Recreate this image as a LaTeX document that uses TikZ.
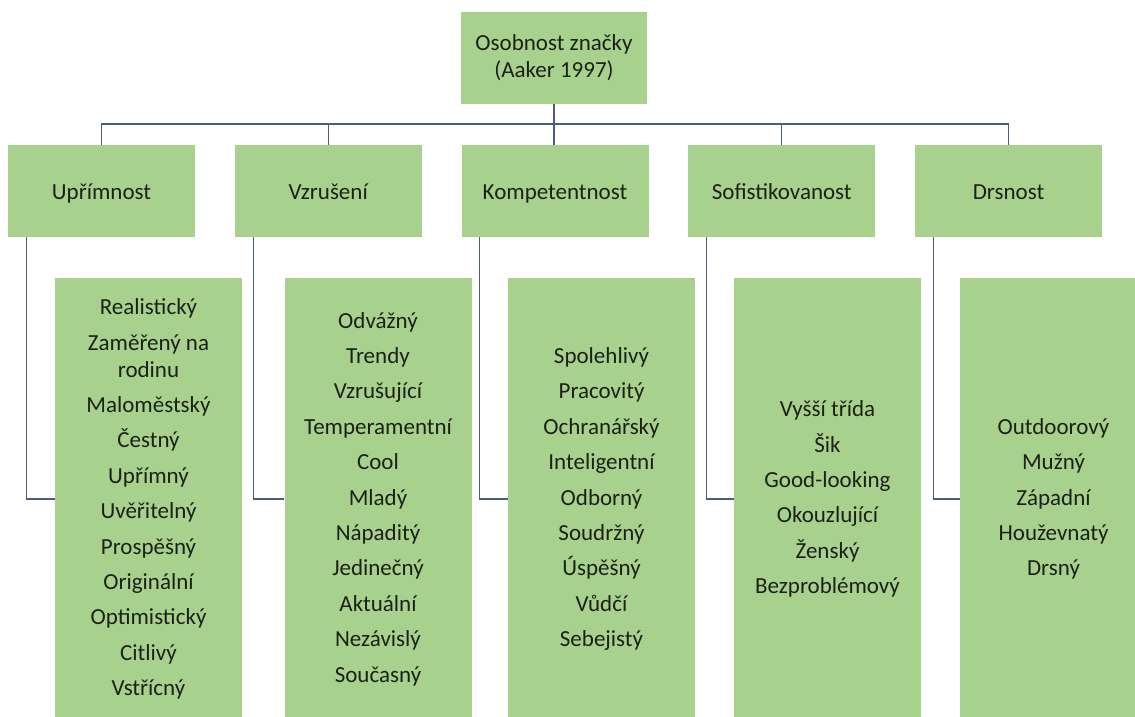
\documentclass[tikz,border=0pt]{standalone}
\usepackage{fontspec}
\setmainfont{Carlito}
\definecolor{boxgreen}{HTML}{A9D18E}
\definecolor{linkline}{HTML}{4C5C7E}
\definecolor{ink}{HTML}{1C2118}
\begin{document}
\begin{tikzpicture}[x=1pt,y=-1pt,
  box/.style={fill=boxgreen,draw=none,inner sep=0pt,align=center,text=ink,
    font=\fontsize{23}{27}\selectfont},
  head/.style={box,minimum width=187pt,minimum height=92pt},
  single/.style={text height=20pt,text depth=4pt},
  list/.style={box,minimum width=187pt,minimum height=442pt},
  link/.style={draw=linkline,line width=1.1pt}]
\useasboundingbox (0,0) rectangle (1135,716);
\clip (0,0) rectangle (1135,716);
\fill[white] (0,0) rectangle (1135,716);

% root
\node[head,minimum width=186pt] (top) at (554,58) {Osobnost značky\\(Aaker 1997)};

% dimensions
\node[head,single] (c1) at (101.5,191) {Upřímnost};
\node[head,single] (c2) at (328.25,191) {Vzrušení};
\node[head,single] (c3) at (555,191) {Kompetentnost};
\node[head,single] (c4) at (781.75,191) {Sofistikovanost};
\node[head,single] (c5) at (1008.5,191) {Drsnost};

% facet lists
\node[list] (d1) at (148.5,499) {Realistický\\[8.4pt]Zaměřený na\\rodinu\\[8.4pt]Maloměstský\\[8.4pt]Čestný\\[8.4pt]Upřímný\\[8.4pt]Uvěřitelný\\[8.4pt]Prospěšný\\[8.4pt]Originální\\[8.4pt]Optimistický\\[8.4pt]Citlivý\\[8.4pt]Vstřícný};
\node[list] (d2) at (378,499) {Odvážný\\[8.4pt]Trendy\\[8.4pt]Vzrušující\\[8.4pt]Temperamentní\\[8.4pt]Cool\\[8.4pt]Mladý\\[8.4pt]Nápaditý\\[8.4pt]Jedinečný\\[8.4pt]Aktuální\\[8.4pt]Nezávislý\\[8.4pt]Současný};
\node[list] (d3) at (601.5,499) {Spolehlivý\\[8.4pt]Pracovitý\\[8.4pt]Ochranářský\\[8.4pt]Inteligentní\\[8.4pt]Odborný\\[8.4pt]Soudržný\\[8.4pt]Úspěšný\\[8.4pt]Vůdčí\\[8.4pt]Sebejistý};
\node[list] (d4) at (827.5,499) {Vyšší třída\\[8.4pt]Šik\\[8.4pt]Good-looking\\[8.4pt]Okouzlující\\[8.4pt]Ženský\\[8.4pt]Bezproblémový};
\node[list] (d5) at (1053.5,499) {Outdoorový\\[8.4pt]Mužný\\[8.4pt]Západní\\[8.4pt]Houževnatý\\[8.4pt]Drsný};

% tree connectors
\coordinate (bus) at (554,124);
\draw[link] (top.south) -- (top.south |- c3.north);
\draw[link] (c1.north) |- (bus) -| (c5.north);
\draw[link] (c2.north) -- (c2.north |- bus);
\draw[link] (c4.north) -- (c4.north |- bus);

% elbows into the facet lists
\foreach \i in {1,...,5}{
  \draw[link] ([xshift=18.5pt]c\i.south west) |- (d\i.west);
}
\end{tikzpicture}
\end{document}
